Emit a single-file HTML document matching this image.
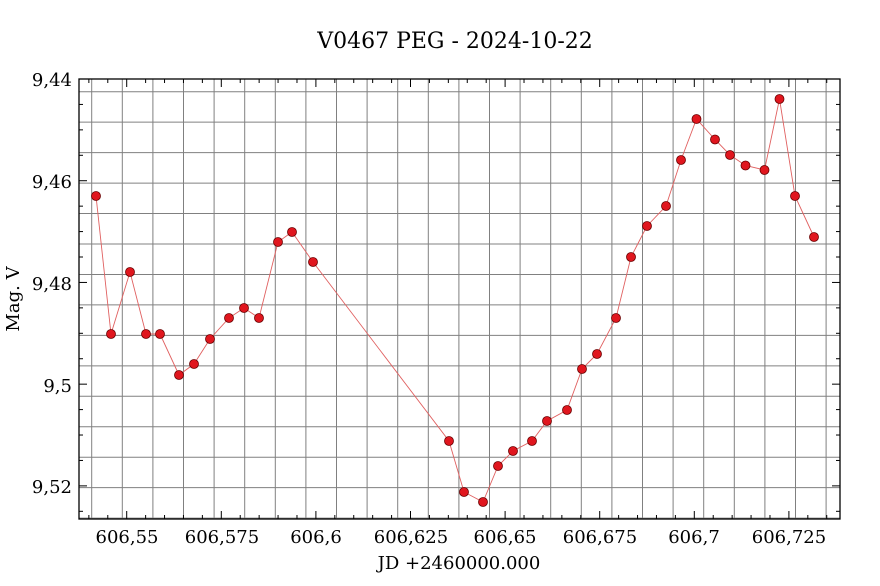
<!DOCTYPE html>
<html><head><style>body{margin:0;background:#fff}svg{display:block}text{font-family:"DejaVu Serif","Liberation Serif",serif;fill:#000}</style></head>
<body>
<svg width="880" height="586" viewBox="0 0 880 586" xmlns="http://www.w3.org/2000/svg">
<rect width="880" height="586" fill="#fff"/>
<g id="grid" stroke="#808080" stroke-width="1"></g>
<g id="ticks" stroke="#000" stroke-width="1"></g>
<rect x="79" y="79" width="761" height="440" fill="none" stroke="#000" stroke-width="1.3"/>
<polyline id="ln" fill="none" stroke="#e06060" stroke-width="0.9"/>
<g id="pts" fill="#e0161e" stroke="#6a0000" stroke-width="0.8"></g>
<text x="455" y="48" font-size="22" text-anchor="middle">V0467 PEG - 2024-10-22</text>
<text x="459" y="569" font-size="18" text-anchor="middle">JD +2460000.000</text>
<text transform="translate(19,299) rotate(-90)" font-size="18" text-anchor="middle">Mag. V</text>
<g font-size="18" text-anchor="end">
<text x="72" y="86">9,44</text><text x="72" y="188">9,46</text><text x="72" y="290">9,48</text><text x="72" y="392">9,5</text><text x="72" y="493">9,52</text>
</g>
<g font-size="18" text-anchor="middle">
<text x="127" y="543">606,55</text><text x="222" y="543">606,575</text><text x="316" y="543">606,6</text><text x="411" y="543">606,625</text><text x="505" y="543">606,65</text><text x="600" y="543">606,675</text><text x="694" y="543">606,7</text><text x="789" y="543">606,725</text>
</g>
<script>
var ns="http://www.w3.org/2000/svg";
function L(g,x1,y1,x2,y2){var l=document.createElementNS(ns,"line");l.setAttribute("x1",x1);l.setAttribute("y1",y1);l.setAttribute("x2",x2);l.setAttribute("y2",y2);document.getElementById(g).appendChild(l);}
for(var x=91.7;x<840;x+=30.6)L("grid",x,79,x,519);
for(var y=91.7;y<519;y+=30.46)L("grid",79,y,840,y);
for(var k=-2;k<=38;k++){var x=126.7+k*18.92;if(x<79||x>840)continue;var len=(k%5==0)?8:4;L("ticks",x,519,x,519-len);L("ticks",x,79,x,79+len);}
for(var k=0;k<=18;k++){var y=79+k*25.43;if(y>519)continue;var len=(k%4==0)?8:4;L("ticks",79,y,79+len,y);L("ticks",840,y,840-len,y);}
var P=[[96,196],[111,334],[130,272],[146,334],[160,334],[179,375],[194,364],[210,339],[229,318],[244,308],[259,318],[278,242],[292,232],[313,262],[449,441],[464,492],[483,502],[498,466],[513,451],[532,441],[547,421],[567,410],[582,369],[597,354],[616,318],[631,257],[647,226],[666,206],[681,160],[696.5,119],[715,139.5],[730,155],[745.5,165.5],[764.5,170],[779.5,99],[795,196],[814,237]];
document.getElementById("ln").setAttribute("points",P.map(function(p){return p.join(",")}).join(" "));
P.forEach(function(p){var c=document.createElementNS(ns,"circle");c.setAttribute("cx",p[0]);c.setAttribute("cy",p[1]);c.setAttribute("r",4.5);document.getElementById("pts").appendChild(c);});
</script>
</svg>
</body></html>
